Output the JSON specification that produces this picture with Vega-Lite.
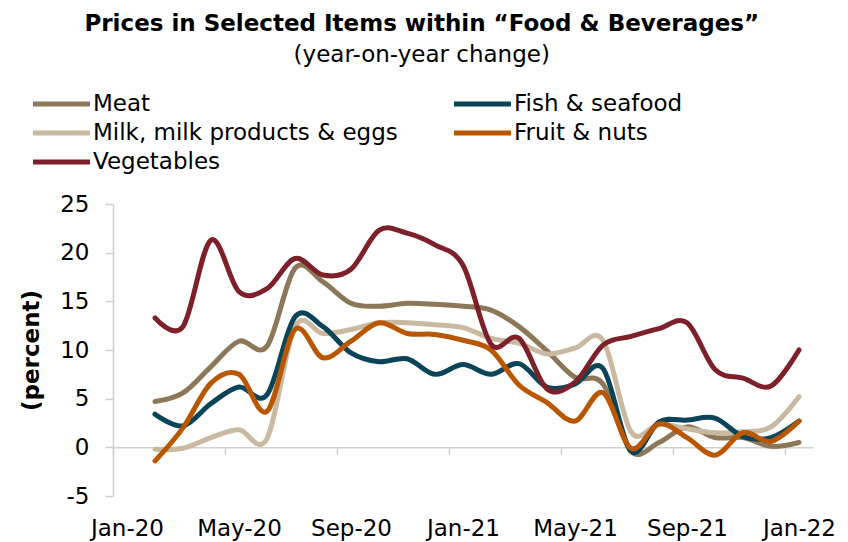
{
  "$schema": "https://vega.github.io/schema/vega-lite/v6.json",
  "autosize": "none",
  "padding": {"left": 113, "top": 204, "right": 35, "bottom": 46},
  "width": 700,
  "height": 292,
  "background": "white",
  "title": {
    "text": "Prices in Selected Items within “Food & Beverages”",
    "subtitle": "(year-on-year change)",
    "font": "DejaVu Sans",
    "fontSize": 23,
    "fontWeight": "bold",
    "color": "#000000",
    "subtitleFont": "DejaVu Sans",
    "subtitleFontSize": 23,
    "subtitleColor": "#000000",
    "subtitlePadding": 8,
    "anchor": "middle",
    "frame": "bounds",
    "offset": 25,
    "dx": -6
  },
  "config": {
    "view": {"stroke": null},
    "axis": {"labelFont": "DejaVu Sans", "titleFont": "DejaVu Sans", "labelColor": "#000000", "titleColor": "#000000"}
  },
  "data": {
    "values": [
      {"month": "Feb-20", "series": "Meat", "value": 4.7},
      {"month": "Mar-20", "series": "Meat", "value": 5.6},
      {"month": "Apr-20", "series": "Meat", "value": 8.3},
      {"month": "May-20", "series": "Meat", "value": 10.9},
      {"month": "Jun-20", "series": "Meat", "value": 10.4},
      {"month": "Jul-20", "series": "Meat", "value": 18.4},
      {"month": "Aug-20", "series": "Meat", "value": 17.0},
      {"month": "Sep-20", "series": "Meat", "value": 14.8},
      {"month": "Oct-20", "series": "Meat", "value": 14.5},
      {"month": "Nov-20", "series": "Meat", "value": 14.8},
      {"month": "Dec-20", "series": "Meat", "value": 14.7},
      {"month": "Jan-21", "series": "Meat", "value": 14.5},
      {"month": "Feb-21", "series": "Meat", "value": 14.1},
      {"month": "Mar-21", "series": "Meat", "value": 12.4},
      {"month": "Apr-21", "series": "Meat", "value": 9.9},
      {"month": "May-21", "series": "Meat", "value": 7.2},
      {"month": "Jun-21", "series": "Meat", "value": 6.5},
      {"month": "Jul-21", "series": "Meat", "value": -0.4},
      {"month": "Aug-21", "series": "Meat", "value": 0.5},
      {"month": "Sep-21", "series": "Meat", "value": 2.1},
      {"month": "Oct-21", "series": "Meat", "value": 1.0},
      {"month": "Nov-21", "series": "Meat", "value": 1.0},
      {"month": "Dec-21", "series": "Meat", "value": 0.1},
      {"month": "Jan-22", "series": "Meat", "value": 0.5},

      {"month": "Feb-20", "series": "Milk, milk products & eggs", "value": -0.2},
      {"month": "Mar-20", "series": "Milk, milk products & eggs", "value": -0.1},
      {"month": "Apr-20", "series": "Milk, milk products & eggs", "value": 1.0},
      {"month": "May-20", "series": "Milk, milk products & eggs", "value": 1.8},
      {"month": "Jun-20", "series": "Milk, milk products & eggs", "value": 0.9},
      {"month": "Jul-20", "series": "Milk, milk products & eggs", "value": 12.4},
      {"month": "Aug-20", "series": "Milk, milk products & eggs", "value": 11.7},
      {"month": "Sep-20", "series": "Milk, milk products & eggs", "value": 12.1},
      {"month": "Oct-20", "series": "Milk, milk products & eggs", "value": 12.8},
      {"month": "Nov-20", "series": "Milk, milk products & eggs", "value": 12.8},
      {"month": "Dec-20", "series": "Milk, milk products & eggs", "value": 12.6},
      {"month": "Jan-21", "series": "Milk, milk products & eggs", "value": 12.3},
      {"month": "Feb-21", "series": "Milk, milk products & eggs", "value": 11.2},
      {"month": "Mar-21", "series": "Milk, milk products & eggs", "value": 10.7},
      {"month": "Apr-21", "series": "Milk, milk products & eggs", "value": 9.6},
      {"month": "May-21", "series": "Milk, milk products & eggs", "value": 10.2},
      {"month": "Jun-21", "series": "Milk, milk products & eggs", "value": 11.0},
      {"month": "Jul-21", "series": "Milk, milk products & eggs", "value": 1.6},
      {"month": "Aug-21", "series": "Milk, milk products & eggs", "value": 2.4},
      {"month": "Sep-21", "series": "Milk, milk products & eggs", "value": 1.9},
      {"month": "Oct-21", "series": "Milk, milk products & eggs", "value": 1.5},
      {"month": "Nov-21", "series": "Milk, milk products & eggs", "value": 1.6},
      {"month": "Dec-21", "series": "Milk, milk products & eggs", "value": 2.1},
      {"month": "Jan-22", "series": "Milk, milk products & eggs", "value": 5.2},

      {"month": "Feb-20", "series": "Fish & seafood", "value": 3.4},
      {"month": "Mar-20", "series": "Fish & seafood", "value": 2.2},
      {"month": "Apr-20", "series": "Fish & seafood", "value": 4.5},
      {"month": "May-20", "series": "Fish & seafood", "value": 6.2},
      {"month": "Jun-20", "series": "Fish & seafood", "value": 5.4},
      {"month": "Jul-20", "series": "Fish & seafood", "value": 13.4},
      {"month": "Aug-20", "series": "Fish & seafood", "value": 12.4},
      {"month": "Sep-20", "series": "Fish & seafood", "value": 9.7},
      {"month": "Oct-20", "series": "Fish & seafood", "value": 8.8},
      {"month": "Nov-20", "series": "Fish & seafood", "value": 9.1},
      {"month": "Dec-20", "series": "Fish & seafood", "value": 7.5},
      {"month": "Jan-21", "series": "Fish & seafood", "value": 8.5},
      {"month": "Feb-21", "series": "Fish & seafood", "value": 7.5},
      {"month": "Mar-21", "series": "Fish & seafood", "value": 8.6},
      {"month": "Apr-21", "series": "Fish & seafood", "value": 6.2},
      {"month": "May-21", "series": "Fish & seafood", "value": 6.5},
      {"month": "Jun-21", "series": "Fish & seafood", "value": 8.1},
      {"month": "Jul-21", "series": "Fish & seafood", "value": -0.4},
      {"month": "Aug-21", "series": "Fish & seafood", "value": 2.6},
      {"month": "Sep-21", "series": "Fish & seafood", "value": 2.8},
      {"month": "Oct-21", "series": "Fish & seafood", "value": 3.0},
      {"month": "Nov-21", "series": "Fish & seafood", "value": 1.1},
      {"month": "Dec-21", "series": "Fish & seafood", "value": 1.0},
      {"month": "Jan-22", "series": "Fish & seafood", "value": 2.7},

      {"month": "Feb-20", "series": "Fruit & nuts", "value": -1.4},
      {"month": "Mar-20", "series": "Fruit & nuts", "value": 2.0},
      {"month": "Apr-20", "series": "Fruit & nuts", "value": 6.6},
      {"month": "May-20", "series": "Fruit & nuts", "value": 7.5},
      {"month": "Jun-20", "series": "Fruit & nuts", "value": 3.7},
      {"month": "Jul-20", "series": "Fruit & nuts", "value": 12.1},
      {"month": "Aug-20", "series": "Fruit & nuts", "value": 9.2},
      {"month": "Sep-20", "series": "Fruit & nuts", "value": 10.9},
      {"month": "Oct-20", "series": "Fruit & nuts", "value": 12.8},
      {"month": "Nov-20", "series": "Fruit & nuts", "value": 11.7},
      {"month": "Dec-20", "series": "Fruit & nuts", "value": 11.6},
      {"month": "Jan-21", "series": "Fruit & nuts", "value": 11.0},
      {"month": "Feb-21", "series": "Fruit & nuts", "value": 10.0},
      {"month": "Mar-21", "series": "Fruit & nuts", "value": 6.4},
      {"month": "Apr-21", "series": "Fruit & nuts", "value": 4.6},
      {"month": "May-21", "series": "Fruit & nuts", "value": 2.7},
      {"month": "Jun-21", "series": "Fruit & nuts", "value": 5.6},
      {"month": "Jul-21", "series": "Fruit & nuts", "value": -0.1},
      {"month": "Aug-21", "series": "Fruit & nuts", "value": 2.4},
      {"month": "Sep-21", "series": "Fruit & nuts", "value": 1.0},
      {"month": "Oct-21", "series": "Fruit & nuts", "value": -0.8},
      {"month": "Nov-21", "series": "Fruit & nuts", "value": 1.5},
      {"month": "Dec-21", "series": "Fruit & nuts", "value": 0.6},
      {"month": "Jan-22", "series": "Fruit & nuts", "value": 2.7},

      {"month": "Feb-20", "series": "Vegetables", "value": 13.3},
      {"month": "Mar-20", "series": "Vegetables", "value": 12.4},
      {"month": "Apr-20", "series": "Vegetables", "value": 21.3},
      {"month": "May-20", "series": "Vegetables", "value": 16.0},
      {"month": "Jun-20", "series": "Vegetables", "value": 16.3},
      {"month": "Jul-20", "series": "Vegetables", "value": 19.4},
      {"month": "Aug-20", "series": "Vegetables", "value": 17.7},
      {"month": "Sep-20", "series": "Vegetables", "value": 18.3},
      {"month": "Oct-20", "series": "Vegetables", "value": 22.3},
      {"month": "Nov-20", "series": "Vegetables", "value": 22.0},
      {"month": "Dec-20", "series": "Vegetables", "value": 20.8},
      {"month": "Jan-21", "series": "Vegetables", "value": 18.7},
      {"month": "Feb-21", "series": "Vegetables", "value": 10.6},
      {"month": "Mar-21", "series": "Vegetables", "value": 11.2},
      {"month": "Apr-21", "series": "Vegetables", "value": 6.0},
      {"month": "May-21", "series": "Vegetables", "value": 6.7},
      {"month": "Jun-21", "series": "Vegetables", "value": 10.5},
      {"month": "Jul-21", "series": "Vegetables", "value": 11.4},
      {"month": "Aug-21", "series": "Vegetables", "value": 12.2},
      {"month": "Sep-21", "series": "Vegetables", "value": 12.8},
      {"month": "Oct-21", "series": "Vegetables", "value": 8.0},
      {"month": "Nov-21", "series": "Vegetables", "value": 7.1},
      {"month": "Dec-21", "series": "Vegetables", "value": 6.3},
      {"month": "Jan-22", "series": "Vegetables", "value": 10.0}
    ]
  },
  "mark": {"type": "line", "interpolate": "cardinal", "strokeWidth": 5, "strokeCap": "round", "strokeJoin": "round"},
  "encoding": {
    "x": {
      "field": "month",
      "type": "ordinal",
      "sort": null,
      "scale": {
        "type": "point",
        "padding": 0.5,
        "domain": ["Jan-20","Feb-20","Mar-20","Apr-20","May-20","Jun-20","Jul-20","Aug-20","Sep-20","Oct-20","Nov-20","Dec-20","Jan-21","Feb-21","Mar-21","Apr-21","May-21","Jun-21","Jul-21","Aug-21","Sep-21","Oct-21","Nov-21","Dec-21","Jan-22"]
      },
      "axis": {
        "title": null,
        "values": ["Jan-20","May-20","Sep-20","Jan-21","May-21","Sep-21","Jan-22"],
        "labelAngle": 0,
        "labelFontSize": 23,
        "labelPadding": 63,
        "offset": -48.67,
        "tickSize": 7,
        "tickOffset": -14,
        "labelOffset": 14,
        "tickColor": "#D0D0D0",
        "tickWidth": 1.5,
        "domainColor": "#D0D0D0",
        "domainWidth": 1.5,
        "grid": false
      }
    },
    "y": {
      "field": "value",
      "type": "quantitative",
      "scale": {"domain": [-5, 25], "nice": false, "zero": false},
      "axis": {
        "title": "(percent)",
        "titleFontSize": 23,
        "titleFontWeight": "bold",
        "titleX": -82,
        "titleBaseline": "middle",
        "values": [-5, 0, 5, 10, 15, 20, 25],
        "labelExpr": "'' + datum.value",
        "labelFontSize": 23,
        "labelPadding": 16,
        "tickSize": 8,
        "tickColor": "#D0D0D0",
        "tickWidth": 1.5,
        "domainColor": "#D0D0D0",
        "domainWidth": 1.5,
        "grid": false
      }
    },
    "color": {
      "field": "series",
      "type": "nominal",
      "scale": {
        "domain": ["Meat", "Milk, milk products & eggs", "Vegetables", "Fish & seafood", "Fruit & nuts"],
        "range": ["#8C7758", "#C8B9A0", "#7D202A", "#0A4458", "#B95700"]
      },
      "legend": {
        "title": null,
        "orient": "none",
        "legendX": -63.5,
        "legendY": -112,
        "columns": 2,
        "columnPadding": 45,
        "rowPadding": 5,
        "symbolType": "M-3,0H3",
        "symbolSize": 361,
        "symbolStrokeWidth": 5,
        "labelOffset": 19.5,
        "labelFont": "DejaVu Sans",
        "labelFontSize": 23,
        "labelColor": "#000000",
        "labelLimit": 500
      }
    }
  }
}
